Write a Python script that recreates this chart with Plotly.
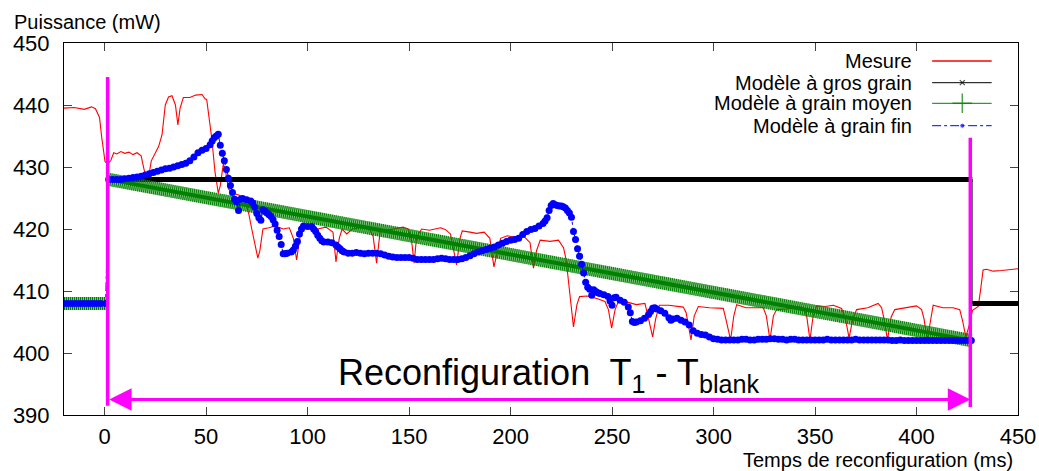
import plotly.graph_objects as go

FONT = "Liberation Sans, Arial, sans-serif"

# ---- Mesure (puissance mesurée, mW)
mesure_t = [-20, -15, -10, -6.5, -4.5, -2.5, -1.5, -0.8, 0.2, 1.5, 3, 4.5, 6, 8, 10, 12, 14, 16, 18,
            19.5, 21.5, 23, 24.2, 26.6, 28.3, 29.9, 31.5, 33.2, 34.9, 36.1, 37.2, 38.8, 42, 44.9, 48,
            49.5, 50.3, 51.6, 52.8, 54.4, 56, 57, 58.5, 59.5, 61, 63, 66, 69, 71, 72.5, 74, 75.5, 76.5,
            78, 81, 84, 88, 91, 93, 94.6, 96.3, 98, 101, 105, 109, 112.5, 114, 115.6, 117, 119.3, 122,
            126, 130.5, 132.3, 134, 135.7, 139, 144, 147, 149.6, 151.2, 152.5, 153.7, 156.2, 160, 165.5,
            168, 170.4, 171.8, 173.4, 175.1, 176.2, 180, 183.3, 187, 189.8, 191.8, 193.5, 195.1, 198.4,
            202, 206.3, 209.6, 211.3, 212.8, 214.6, 219.5, 223.6, 226.1, 227.4, 229.4, 231, 232.7, 234,
            237.6, 242.5, 246.5, 248.2, 249.8, 251.5, 253.1, 257.5, 262, 266.2, 267.8, 270, 271.5, 273.3,
            278, 285.1, 286.5, 288.9, 290.5, 292.5, 298, 304.8, 306, 308.4, 310, 311.4, 316, 324.5, 326,
            327.8, 329.5, 331.1, 336, 342.5, 345, 346, 347.5, 349, 350.8, 355, 359, 363.1, 365, 366.8,
            368.6, 370.5, 376, 381.1, 382.8, 384, 385.7, 387.5, 389.3, 395, 400, 402.5, 403.7, 405.3,
            407, 408.2, 413, 418, 421.3, 422.7, 424.3, 426, 427.6, 430.4, 431.5, 432.8, 434.5, 437.8,
            441.9, 446, 450]
mesure_p = [439.5, 439.6, 439.3, 439.7, 439.4, 438.0, 435.0, 433.0, 430.9, 430.5, 431.0, 432.3, 432.1,
            432.5, 432.2, 432.4, 432.0, 432.3, 431.8, 429.5, 428.0, 431.0, 431.7, 433.3, 435.2, 440.0,
            441.3, 441.5, 440.0, 436.8, 439.5, 441.2, 441.2, 441.6, 441.7, 441.0, 440.9, 437.9, 434.6,
            429.2, 425.8, 427.0, 430.5, 429.5, 426.5, 425.8, 425.5, 425.0, 422.5, 420.0, 417.5, 415.3,
            416.5, 420.0, 420.2, 420.5, 420.0, 420.2, 418.5, 415.0, 418.8, 420.0, 420.2, 420.0, 420.3,
            419.5, 414.7, 418.5, 420.0, 419.2, 420.0, 420.2, 420.0, 418.8, 414.5, 419.5, 419.8, 420.1,
            420.3, 420.0, 418.2, 414.5, 418.7, 420.0, 419.8, 420.2, 419.9, 419.2, 417.0, 414.2, 418.5,
            419.7, 419.5, 419.3, 419.5, 418.5, 413.9, 416.5, 418.5, 418.9, 418.7, 418.9, 417.8, 413.7,
            416.5, 418.2, 418.0, 418.2, 417.0, 415.0, 408.5, 404.2, 407.8, 409.1, 409.2, 408.8, 408.3,
            407.0, 404.0, 407.0, 408.3, 408.2, 407.8, 408.0, 405.8, 402.6, 405.5, 407.7, 407.7, 407.4,
            406.5, 402.1, 406.0, 407.5, 407.3, 407.2, 405.6, 402.1, 406.0, 407.8, 407.3, 407.3, 406.0,
            402.1, 406.0, 407.0, 407.1, 407.4, 407.0, 405.7, 402.1, 405.8, 407.6, 407.5, 407.7, 407.2,
            405.5, 402.4, 405.5, 407.0, 407.3, 408.0, 407.3, 405.5, 402.1, 405.8, 407.0, 407.3, 407.6,
            407.0, 405.5, 402.1, 405.5, 407.7, 407.3, 407.3, 407.0, 405.2, 402.6, 404.5, 406.9, 407.5,
            410.0, 413.4, 413.5, 413.2, 413.3, 413.5, 413.6]

# ---- Modèle à gros grain (paliers)
gros_t = [-20, 2, None, 2, 427.5, None, 427.5, 450]
gros_p = [408, 408, None, 428, 428, None, 408, 408]

# ---- Modèle à grain moyen
moyen_t = [-20, 2, None, 2, 427]
moyen_p = [408, 408, None, 428, 402]

# ---- Modèle à grain fin
fin_t = [-20, -18, -16, -14, -12, -10, -8, -6, -4, -2, 0.5,
         2, 4, 6, 8, 10, 12, 14, 16, 18, 20, 22, 24, 26, 28, 30, 32, 34, 36, 38, 40, 42, 44, 46, 48,
         50, 52, 53, 54, 55, 56, 57, 58, 59, 60, 61, 62, 63, 64, 65, 66, 67, 68, 70, 72, 73, 74, 75,
         76, 77, 78, 79, 80, 81, 82, 83, 84, 85, 86, 87, 88, 89, 90, 92, 93, 94, 95, 96, 97, 98, 100,
         102, 103, 104, 105, 106, 107, 108, 110, 112, 114, 115, 116, 117, 118, 120, 122, 124, 126,
         128, 130, 132, 134, 136, 138, 140, 142, 144, 146, 148, 150, 152, 154, 156, 158, 160, 162,
         164, 166, 168, 170, 172, 174, 176, 178, 180, 182, 184, 186, 188, 190, 192, 194, 196, 198,
         200, 202, 204, 206, 208, 210, 212, 214, 216, 217, 218, 219, 220, 221, 222, 223, 224, 225,
         226, 227, 228, 229, 230, 231, 232, 233, 234, 235, 236, 237, 238, 239, 240, 241, 242, 243,
         244, 246, 248, 249, 250, 251, 252, 254, 256, 258, 259, 260, 261, 262, 264, 266, 268, 269,
         270, 271, 272, 274, 276, 278, 279, 280, 282, 284, 286, 288, 290, 292, 294, 296, 298, 300,
         302, 304, 306, 308, 310, 312, 314, 316, 318, 320, 322, 324, 326, 328, 330, 332, 334, 336,
         338, 340, 342, 344, 346, 348, 350, 352, 354, 356, 358, 360, 362, 364, 366, 368, 370, 372,
         374, 376, 378, 380, 382, 384, 386, 388, 390, 392, 394, 396, 398, 400, 402, 404, 406, 408,
         410, 412, 414, 416, 418, 420, 422, 424, 426, 427]
fin_p = [408.0, 408.0, 408.0, 408.0, 408.0, 408.0, 408.0, 408.0, 408.0, 408.0, 408.0,
         428.0, 428.0, 428.0, 428.0, 428.1, 428.2, 428.3, 428.4, 428.5, 428.7, 428.9, 429.1, 429.3,
         429.5, 429.7, 429.8, 430.0, 430.2, 430.4, 430.6, 431.0, 431.6, 432.3, 432.7, 433.0, 433.6,
         434.2, 434.7, 435.0, 435.3, 433.5, 432.2, 431.0, 429.6, 428.2, 427.0, 425.9, 424.8, 424.4,
         423.0, 424.8, 424.9, 424.7, 424.5, 424.2, 423.5, 422.5, 421.8, 421.4, 423.1, 422.9, 422.6,
         422.3, 422.0, 421.5, 420.8, 419.8, 418.8, 417.5, 416.0, 416.0, 416.1, 416.3, 416.6, 417.2,
         418.0, 419.2, 420.0, 420.5, 420.4, 420.4, 420.0, 419.6, 419.0, 418.5, 418.1, 417.9, 417.9,
         417.8, 417.4, 417.1, 416.8, 416.5, 416.3, 416.1, 416.1, 416.2, 416.1, 416.0, 416.1, 416.1,
         416.1, 416.0, 415.8, 415.6, 415.5, 415.4, 415.4, 415.4, 415.4, 415.3, 415.1, 415.1, 415.1,
         415.1, 415.1, 415.2, 415.3, 415.2, 415.1, 415.1, 415.1, 415.2, 415.4, 415.7, 416.0, 416.3,
         416.5, 416.7, 416.9, 417.1, 417.4, 417.7, 418.0, 418.2, 418.3, 418.5, 419.1, 419.6, 419.9,
         420.1, 420.5, 420.9, 421.3, 421.8, 423.0, 423.8, 424.1, 423.9, 423.8, 423.7, 423.7, 423.6,
         423.4, 423.0, 422.6, 421.9, 419.6, 418.3, 416.8, 415.6, 414.3, 412.9, 411.4, 410.6, 410.3,
         409.3, 410.2, 409.9, 409.7, 409.6, 409.4, 409.1, 408.4, 407.7, 408.9, 409.0, 408.5, 408.2,
         407.4, 406.5, 405.1, 404.9, 405.0, 405.2, 405.6, 406.2, 406.7, 407.2, 407.3, 407.1, 406.8,
         406.4, 405.7, 405.3, 405.5, 405.6, 405.3, 405.0, 404.5, 403.6, 403.2, 403.0, 402.9, 402.6,
         402.3, 402.2, 402.1, 402.1, 402.1, 402.1, 402.1, 402.2, 402.2, 402.1, 402.1, 402.2, 402.2,
         402.2, 402.3, 402.3, 402.2, 402.2, 402.1, 402.2, 402.2, 402.1, 402.1, 402.1, 402.1, 402.1,
         402.1, 402.1, 402.2, 402.1, 402.1, 402.1, 402.1, 402.1, 402.1, 402.2, 402.1, 402.1, 402.1,
         402.1, 402.1, 402.1, 402.1, 402.1, 402.0, 402.0, 402.1, 402.0, 402.0, 402.0, 402.0, 402.0,
         402.0, 402.0, 402.0, 402.0, 402.0, 402.0, 402.0, 402.0, 402.0, 402.0, 402.0, 402.0,
         402.0]

x_ticks = [0, 50, 100, 150, 200, 250, 300, 350, 400, 450]
y_ticks = [390, 400, 410, 420, 430, 440, 450]

reconf_debut = 1.5
reconf_fin = 426.5

noms = ["Mesure", "Modèle à gros grain", "Modèle à grain moyen", "Modèle à grain fin"]

MAGENTA = "#ff00ff"
GREEN = "#008000"

fig = go.Figure()

# ---- Mesure
fig.add_trace(go.Scatter(x=mesure_t, y=mesure_p, mode="lines",
                         line=dict(color="#ff0000", width=1.1), name=noms[0]))

# ---- gros grain : trait fin + bande épaisse (marqueurs serrés)
gros_xl = [t for t in gros_t if t is not None]
gros_yl = [p for p in gros_p if p is not None]
fig.add_trace(go.Scatter(x=gros_xl, y=gros_yl, mode="lines",
                         line=dict(color="#555555", width=1), name=noms[1]))
fig.add_trace(go.Scatter(x=gros_t, y=gros_p, mode="lines", connectgaps=False,
                         line=dict(color="#000000", width=5), showlegend=False))

# ---- grain moyen : bande claire + hachures + trait central
fig.add_trace(go.Scatter(x=moyen_t, y=moyen_p, mode="lines", connectgaps=False,
                         line=dict(color="rgba(0,140,0,0.5)", width=13), showlegend=False))
fig.add_trace(go.Scatter(x=moyen_t, y=moyen_p, mode="lines", connectgaps=False,
                         line=dict(color=GREEN, width=13, dash="1px,1px"), showlegend=False))
fig.add_trace(go.Scatter(x=moyen_t, y=moyen_p, mode="lines", connectgaps=False,
                         line=dict(color=GREEN, width=4), name=noms[2]))

# ---- grain fin
fig.add_trace(go.Scatter(x=fin_t, y=fin_p, mode="lines+markers",
                         line=dict(color="#0000ff", width=1, dash="dashdot"),
                         marker=dict(color="#0000ff", size=7, line=dict(width=0)),
                         name=noms[3]))

# ---- légende dessinée à la manière de gnuplot (texte à gauche, échantillon à droite)
fig.add_trace(go.Scatter(x=[0.91, 0.9724], y=[0.9516, 0.9516], mode="lines",
                         line=dict(color="#ff0000", width=1.3),
                         xaxis="x2", yaxis="y2", showlegend=False))
fig.add_trace(go.Scatter(x=[0.91, 0.9416, 0.9724], y=[0.8933, 0.8933, 0.8933], mode="lines+markers",
                         line=dict(color="#000000", width=1),
                         marker=dict(symbol="x-thin", size=[0, 5, 0],
                                     line=dict(color="#000000", width=1.2)),
                         xaxis="x2", yaxis="y2", showlegend=False))
fig.add_trace(go.Scatter(x=[0.91, 0.9416, 0.9724], y=[0.8379, 0.8379, 0.8379], mode="lines+markers",
                         line=dict(color=GREEN, width=1),
                         marker=dict(symbol="cross-thin", size=[0, 14, 0],
                                     line=dict(color=GREEN, width=1.5)),
                         xaxis="x2", yaxis="y2", showlegend=False))
fig.add_trace(go.Scatter(x=[0.91, 0.9416, 0.9724], y=[0.7777, 0.7777, 0.7777], mode="lines+markers",
                         line=dict(color="#0000ff", width=1, dash="dashdot"),
                         marker=dict(color="#0000ff", size=[0, 5, 0]),
                         xaxis="x2", yaxis="y2", showlegend=False))

legend_y = [0.9516, 0.8933, 0.8379, 0.7777]
annotations = []
for nom, ly in zip(noms, legend_y):
    annotations.append(dict(x=0.891, y=ly, xref="paper", yref="paper", text=nom,
                            showarrow=False, xanchor="right", yanchor="middle",
                            font=dict(family=FONT, size=20, color="#000000")))

# ---- flèche de reconfiguration
annotations.append(dict(x=reconf_fin, y=392.5, ax=reconf_debut, ay=392.5,
                        xref="x", yref="y", axref="x", ayref="y", text="",
                        showarrow=True, arrowside="end+start", arrowhead=2, startarrowhead=2,
                        arrowsize=1.5, startarrowsize=1.5, arrowwidth=3, arrowcolor=MAGENTA))
annotations.append(dict(x=218.7, y=396.5, xref="x", yref="y",
                        text="Reconfiguration&nbsp; T<sub>1</sub> - T<sub>blank</sub>",
                        showarrow=False, xanchor="center", yanchor="middle",
                        font=dict(family=FONT, size=36, color="#000000")))

# ---- titres des axes
annotations.append(dict(x=-0.0545, y=1.056, xref="paper", yref="paper", text="Puissance (mW)",
                        showarrow=False, xanchor="left", yanchor="middle",
                        font=dict(family=FONT, size=20, color="#000000")))
annotations.append(dict(x=0.9969, y=-0.1215, xref="paper", yref="paper",
                        text="Temps de reconfiguration (ms)",
                        showarrow=False, xanchor="right", yanchor="middle",
                        font=dict(family=FONT, size=20, color="#000000")))

shapes = [
    dict(type="line", xref="x", yref="y", x0=reconf_debut, x1=reconf_debut, y0=391.5, y1=444.5,
         line=dict(color=MAGENTA, width=3.5)),
    dict(type="line", xref="x", yref="y", x0=reconf_fin, x1=reconf_fin, y0=391.3, y1=434.7,
         line=dict(color=MAGENTA, width=3.5)),
]

fig.update_layout(
    width=1039,
    height=471,
    margin=dict(l=64, r=21, t=43, b=56),
    paper_bgcolor="white",
    plot_bgcolor="white",
    showlegend=False,
    font=dict(family=FONT, color="#000000"),
    xaxis=dict(
        range=[-20, 450],
        tickvals=x_ticks,
        ticks="inside", ticklen=8, tickcolor="#444444",
        showline=True, linecolor="#000000", linewidth=1, mirror="allticks",
        showgrid=False, zeroline=False, ticklabelstandoff=2, automargin=False,
        tickfont=dict(family=FONT, size=22, color="#000000"),
    ),
    yaxis=dict(
        range=[390, 450],
        tickvals=y_ticks,
        ticks="inside", ticklen=8, tickcolor="#444444",
        showline=True, linecolor="#000000", linewidth=1, mirror="allticks",
        showgrid=False, zeroline=False, ticklabelstandoff=9, automargin=False,
        tickfont=dict(family=FONT, size=22, color="#000000"),
    ),
    xaxis2=dict(overlaying="x", range=[0, 1], visible=False, anchor="y2"),
    yaxis2=dict(overlaying="y", range=[0, 1], visible=False, anchor="x2"),
    annotations=annotations,
    shapes=shapes,
)

# la page est photographiée depuis le coin (0,0) : pas de marge du body, pas de barre d'outils
fig.write_html("out.html", config={"displayModeBar": False},
               post_script="document.body.style.margin='0px';")
